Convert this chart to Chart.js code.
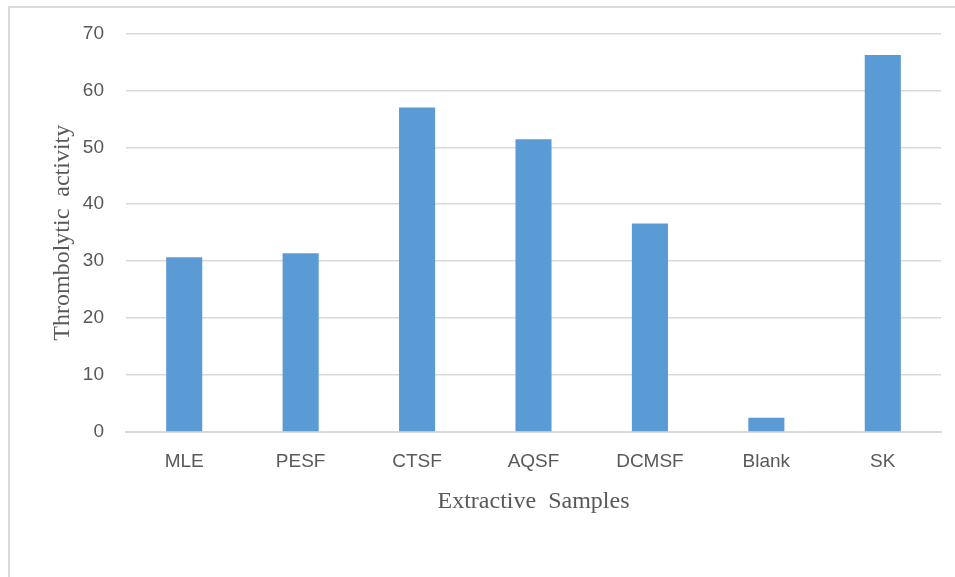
<!DOCTYPE html>
<html lang="en">
  <head>
    <meta charset="utf-8">
    <title>Thrombolytic activity</title>
    <style>
      body { margin: 0; background: #fff; }
      #frame { position: absolute; left: 8px; top: 6px; width: 960px; height: 600px;
               border-left: 2px solid #d9d9d9; border-top: 2px solid #d9d9d9; box-sizing: border-box; }
      #chart { position: absolute; left: 0; top: 0; }
    </style>
  </head>
  <body>
    <script src="https://cdn.jsdelivr.net/npm/chart.js"></script>
    <div id="frame"></div>
    <canvas id="chart" width="955" height="577"></canvas>
    <script>
      // data
      var samples = ['MLE', 'PESF', 'CTSF', 'AQSF', 'DCMSF', 'Blank', 'SK'];
      var activity = [30.7, 31.4, 57.0, 51.4, 36.6, 2.5, 66.2];
      var yMax = 70;
      var yStep = 10;

      var grey = '#595959';
      var lineGrey = '#d9d9d9';

      var myChart = new Chart(document.getElementById('chart'), {
        type: 'bar',
        data: {
          labels: samples,
          datasets: [{
            data: activity,
            backgroundColor: '#5b9bd5',
            barPercentage: 0.31,
            categoryPercentage: 1
          }]
        },
        options: {
          responsive: false,
          animation: false,
          layout: { padding: { left: 0, right: 14, top: 33, bottom: 45 } },
          plugins: { legend: { display: false }, tooltip: { enabled: false } },
          scales: {
            x: {
              grid: { display: false, drawTicks: false },
              border: { display: true, color: lineGrey, width: 2 },
              ticks: { color: grey, padding: 18, font: { family: 'Liberation Sans', size: 19 } },
              title: {
                display: true,
                text: 'Extractive  Samples',
                color: grey,
                font: { family: 'Liberation Serif', size: 24 },
                padding: { top: 0, bottom: 16 }
              },
              afterFit: function(s) { s.height = 100; }
            },
            y: {
              min: 0,
              max: yMax,
              grid: { color: lineGrey, lineWidth: 1.5, drawTicks: false },
              border: { display: false },
              ticks: { stepSize: yStep, color: grey, padding: 22, font: { family: 'Liberation Sans', size: 19 } },
              title: {
                display: true,
                text: 'Thrombolytic  activity',
                color: grey,
                font: { family: 'Liberation Serif', size: 24 },
                padding: { top: 48, bottom: 0 }
              },
              afterFit: function(s) { s.width = 126; }
            }
          }
        }
      });
    </script>
  </body>
</html>
